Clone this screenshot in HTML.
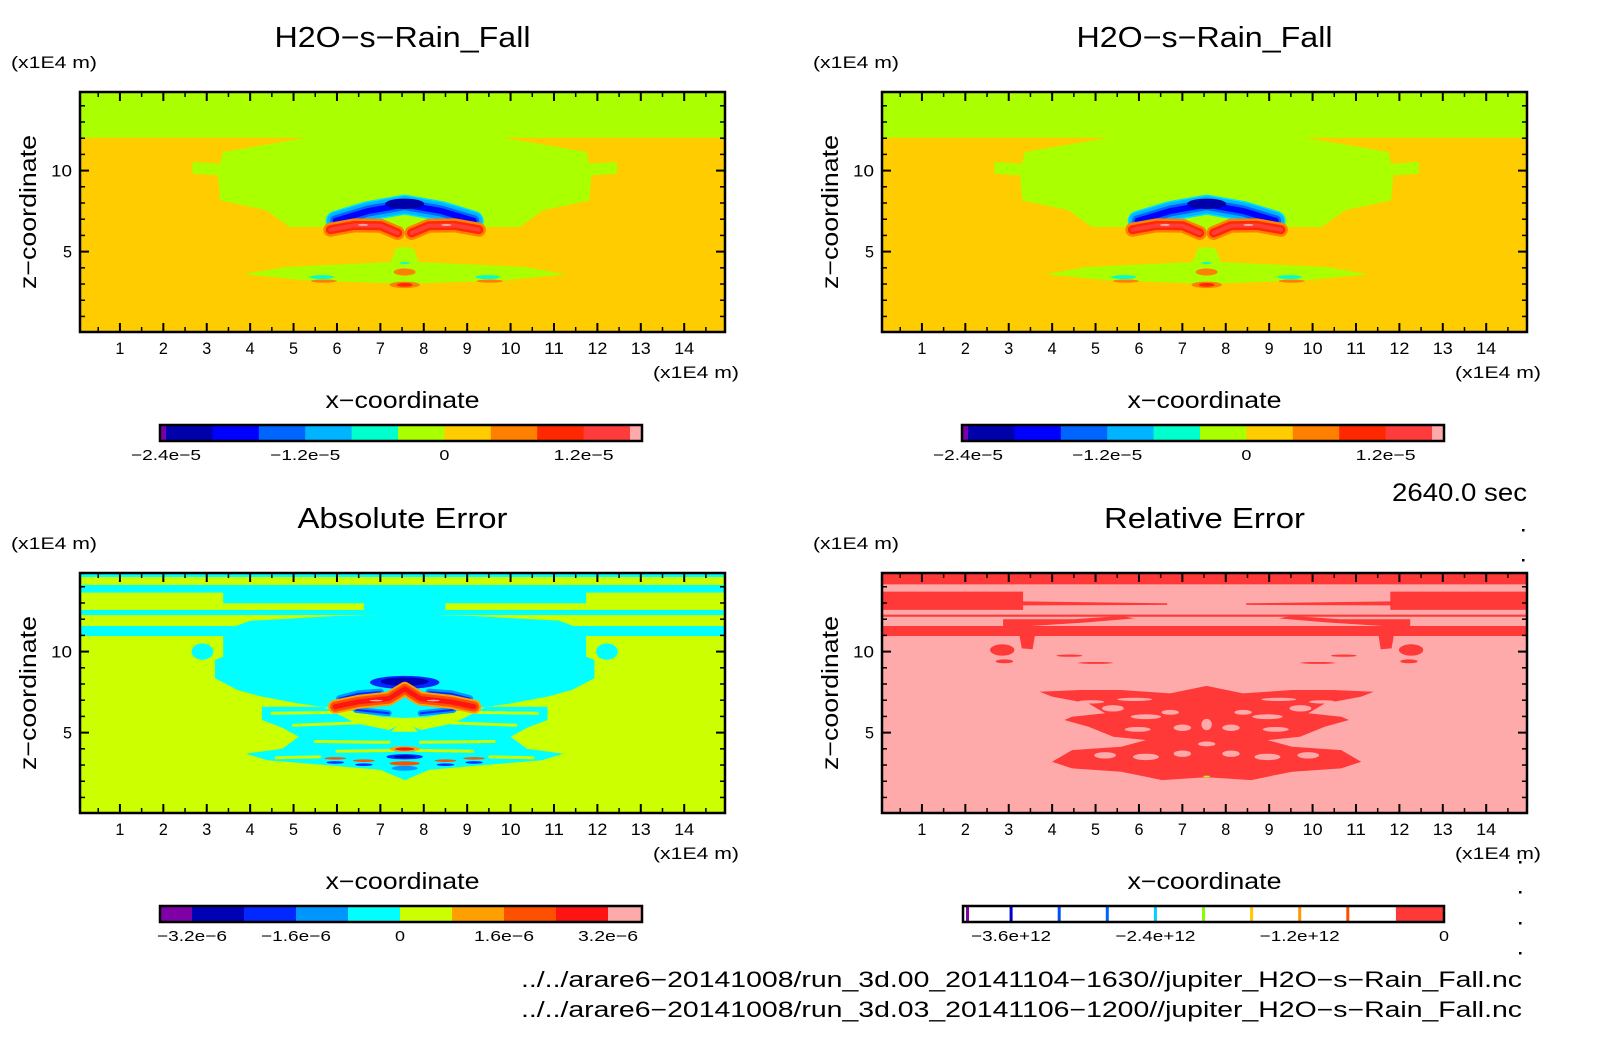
<!DOCTYPE html>
<html><head><meta charset="utf-8"><title>H2O-s-Rain_Fall comparison</title>
<style>
html,body{margin:0;padding:0;background:#fff;}
svg{display:block;}
text{font-family:"Liberation Sans",sans-serif;fill:#000;}
</style></head>
<body>
<svg id="fig" width="1604" height="1054" viewBox="0 0 1604 1054" xmlns="http://www.w3.org/2000/svg">
<defs>
<clipPath id="clipTL"><rect x="80" y="92" width="645" height="240"/></clipPath>
<clipPath id="clipTR"><rect x="882" y="92" width="645" height="240"/></clipPath>
<clipPath id="clipBL"><rect x="80" y="573" width="645" height="240"/></clipPath>
<clipPath id="clipBR"><rect x="882" y="573" width="645" height="240"/></clipPath>
</defs>
</svg>
<script>
// ---------- data ----------
const xTicks = [1,2,3,4,5,6,7,8,9,10,11,12,13,14];
const zMajorTicks = [5,10];
const fieldLevels = [-2.4,-2.0,-1.6,-1.2,-0.8,-0.4,0,0.4,0.8,1.2,1.6];
const fieldColors = ['#7a00a8','#0000aa','#0000ff','#0064ff','#00b4ff','#00ffcc','#aaff00','#ffcc00','#ff8000','#ff2800','#ff3c3c','#ffaaaa'];
const fieldTickLabels = ['-2.4e-5','-1.2e-5','0','1.2e-5'];
const fieldTickValues = [-2.4,-1.2,0,1.2];
const absLevels = [-3.2,-2.4,-1.6,-0.8,0,0.8,1.6,2.4,3.2];
const absColors = ['#8000a8','#0000b4','#0028ff','#0096ff','#00ffff','#ccff00','#ffa000','#ff5000','#ff1414','#ffaaaa'];
const absTickLabels = ['-3.2e-6','-1.6e-6','0','1.6e-6','3.2e-6'];
const absTickValues = [-3.2,-1.6,0,1.6,3.2];
const relLevels = [-4.0,-3.6,-3.2,-2.8,-2.4,-2.0,-1.6,-1.2,-0.8,-0.4];
const relLineColors = ['#8000a8','#0000cc','#0050ff','#0064ff','#00d0ff','#88ff00','#ffc800','#ff9800','#ff5000'];
const relTickLabels = ['-3.6e+12','-2.4e+12','-1.2e+12','0'];
const relTickValues = [-3.6,-2.4,-1.2,0];

// field shapes (data coords, x and z in 1E4 m); half shapes mirrored about XC
const XC = 7.56;
const greenBlobHalf = [[7.56,12.1],[5.3,12.1],[5.3,12.03],[3.37,11.15],[3.31,10.43],[2.67,10.53],[2.67,9.81],[3.26,9.71],[3.31,8.16],[4.37,7.55],[4.91,6.52],[5.97,6.52],[7.56,6.0]];
const lowerGreenHalf = [[7.56,5.3],[7.35,5.18],[7.24,4.36],[4.8,4.05],[3.84,3.6],[5.33,3.22],[7.56,3.02]];
const blueArcHalf = [[5.97,6.9],[6.71,7.5],[7.56,7.9]];
const redLobe = [[5.85,6.35],[6.4,6.62],[7.0,6.6],[7.4,6.15]];

const absRects = [[14.6,14.9],[13.64,14.11],[12.26,12.57],[10.96,11.58]];
const absUpperHalf = [[7.56,13.7],[3.38,13.7],[3.38,12.98],[6.62,12.98],[6.62,12.5],[7.56,12.5]];
const absDomeHalf = [[7.56,12.3],[6.0,12.2],[4.0,11.9],[3.6,11.5],[7.56,11.5]];
const absBlobHalf = [[7.56,11.0],[3.38,11.0],[3.38,9.69],[3.19,9.48],[3.19,8.35],[3.71,7.63],[4.27,7.22],[5.12,6.8],[6.25,6.39],[7.0,5.98],[7.56,5.9]];
const absLowerHalf = [[7.56,5.6],[7.19,5.16],[6.44,5.57],[5.68,6.6],[4.27,6.6],[4.27,5.78],[4.74,5.3],[5.12,4.75],[4.74,4.0],[3.9,3.7],[4.4,3.3],[5.5,3.05],[6.2,2.9],[7.0,2.7],[7.56,2.07]];
const absStripes = [[[4.5,6.2],[6.0,6.25]],[[5.0,5.45],[6.5,5.6]],[[5.5,4.45],[7.2,4.4]],[[6.0,3.85],[7.3,3.9]],[[4.6,3.45],[5.6,3.5]]];
const absRedArc = [[5.96,6.6],[6.5,6.9],[7.2,7.1],[7.56,7.7]];
const absBlueSide = [[6.06,7.1],[6.5,7.4],[7.0,7.5]];
const absBlueBelow = [[6.44,6.4],[7.19,6.2]];

const relTopRect = [14.15,14.9];
const relBandLeft = [[0,13.7],[3.33,13.7],[3.33,13.1],[6.65,12.98],[6.65,12.88],[3.33,12.85],[3.33,12.57],[0,12.57]];
const relThin = [12.15,12.28];
const relMidRect = [10.96,11.58];
const relArcLeft = [[2.87,11.58],[2.87,12.0],[4.5,12.0],[5.6,12.2],[5.9,12.05],[4.8,11.8],[3.5,11.58]];
const relDripLeft = [[3.25,10.96],[3.6,10.96],[3.55,10.15],[3.3,10.2]];
const relLowerHalf = [[7.55,7.88],[6.72,7.42],[5.59,7.63],[4.65,7.63],[3.71,7.52],[4.0,7.22],[4.84,6.8],[5.22,6.19],[4.46,5.98],[4.28,5.78],[4.84,5.36],[5.41,4.75],[6.16,4.54],[5.59,4.13],[4.46,3.92],[4.0,3.2],[4.46,2.79],[5.59,2.59],[6.16,2.28],[6.53,2.07],[7.55,2.24]];
const relHoles = [[5.4,6.5,0.25,0.2],[6.16,5.98,0.35,0.15],[6.72,6.25,0.2,0.15],[5.97,5.2,0.3,0.15],[7.0,5.3,0.2,0.2],[5.22,3.6,0.25,0.2],[6.16,3.5,0.3,0.2],[7.0,3.7,0.2,0.2],[4.9,6.9,0.3,0.1],[5.9,7.05,0.4,0.1]];
const relCenterHoles = [[7.56,5.5,0.12,0.35],[7.56,4.3,0.2,0.15]];

// ---------- helpers ----------
const NS = 'http://www.w3.org/2000/svg';
const svg = document.getElementById('fig');
const XMIN = 0.08, XMAX = 14.94, ZMIN = 0.04, ZMAX = 14.85;
const PW = 645, PH = 240;
function mk(tag, attrs, parent){ const e=document.createElementNS(NS,tag); for(const k in attrs) e.setAttribute(k,attrs[k]); (parent||svg).appendChild(e); return e; }
function txt(parent, x, y, s, size, anchor, len){
  const t=mk('text',{x:x,y:y,'font-size':size,'text-anchor':anchor||'middle'},parent);
  if(len){ t.setAttribute('textLength',len); t.setAttribute('lengthAdjust','spacingAndGlyphs'); }
  t.textContent=s; return t;
}
function mirror(half){ const r=half.slice().reverse().map(p=>[2*XC-p[0],p[1]]); return half.concat(r); }
function mirrorPts(pts){ return pts.map(p=>[2*XC-p[0],p[1]]); }

function makePanel(ox, oy, clipId, name){
  const g = mk('g',{'clip-path':'url(#'+clipId+')'});
  
  
  const sx = x => ox + (x - XMIN) / (XMAX - XMIN) * PW;
  const sz = z => oy + PH - (z - ZMIN) / (ZMAX - ZMIN) * PH;
  const P = {g, sx, sz, ox, oy};
  P.rect = (z0, z1, fill) => mk('rect',{x:ox,y:sz(z1),width:PW,height:sz(z0)-sz(z1),fill:fill},g);
  P.poly = (pts, fill) => mk('polygon',{points:pts.map(p=>sx(p[0]).toFixed(1)+','+sz(p[1]).toFixed(1)).join(' '),fill:fill},g);
  P.line = (pts, color, w) => mk('polyline',{points:pts.map(p=>sx(p[0]).toFixed(1)+','+sz(p[1]).toFixed(1)).join(' '),fill:'none',stroke:color,'stroke-width':w,'stroke-linecap':'round','stroke-linejoin':'round'},g);
  P.ell = (x, z, rx, rz, fill) => mk('ellipse',{cx:sx(x),cy:sz(z),rx:rx/(XMAX-XMIN)*PW,ry:rz/(ZMAX-ZMIN)*PH,fill:fill},g);
  return P;
}

function drawAxes(P, name){
  const {ox, oy, sx, sz} = P;
  const a = mk('g',{});
  
  
  xTicks.forEach(v=>{
    const x=sx(v);
    mk('line',{x1:x,y1:oy,x2:x,y2:oy+9,stroke:'#000','stroke-width':2},a);
    mk('line',{x1:x,y1:oy+PH,x2:x,y2:oy+PH-9,stroke:'#000','stroke-width':2},a);
    const t = txt(a, x, oy+PH+22, String(v), 17, 'middle', v>=10?20:9);
    
    
  });
  for(let v=0.5; v<XMAX; v+=1){
    const x=sx(v);
    mk('line',{x1:x,y1:oy,x2:x,y2:oy+5,stroke:'#000','stroke-width':1.5},a);
    mk('line',{x1:x,y1:oy+PH,x2:x,y2:oy+PH-5,stroke:'#000','stroke-width':1.5},a);
  }
  for(let v=1; v<ZMAX; v+=1){
    const y=sz(v); const maj = zMajorTicks.indexOf(v)>=0; const L = maj?9:5;
    mk('line',{x1:ox,y1:y,x2:ox+L,y2:y,stroke:'#000','stroke-width':maj?2:1.5},a);
    mk('line',{x1:ox+PW,y1:y,x2:ox+PW-L,y2:y,stroke:'#000','stroke-width':maj?2:1.5},a);
  }
  zMajorTicks.forEach(v=>{
    const t = txt(a, ox-8, sz(v)+6, String(v), 17, 'end', v>=10?21:9);
    
    
  });
  mk('rect',{x:ox,y:oy,width:PW,height:PH,fill:'none',stroke:'#000','stroke-width':2.5},a);
  const u1 = txt(a, ox+PW+14, oy+PH+46, '(x1E4 m)', 17, 'end', 86);
  
  
  const u2 = txt(a, ox-69, oy-24, '(x1E4 m)', 17, 'start', 86);
  
  
  const xt = txt(a, ox+PW/2, oy+PH+76, 'x−coordinate', 23, 'middle', 154);
  
  
  const zt = txt(a, 0, 0, 'z−coordinate', 23, 'middle', 154);
  zt.setAttribute('transform','translate('+(ox-44)+','+(oy+PH/2)+') rotate(-90)');
  
  
}

function title(P, s, len){
  const t = txt(svg, P.ox+PW/2, P.oy-45, s, 29, 'middle', len);
  
  
}

// filled colorbar: purple end cap, equal segments between levels, pink end cap
function colorbar(x0, x1, y, levels, colors, lowW, highW, tickVals, tickLabels, name){
  const g = mk('g',{});
  
  
  const segW = (x1 - x0 - lowW - highW) / (levels.length - 1);
  const lx = v => x0 + lowW + (v - levels[0]) / (levels[levels.length-1]-levels[0]) * segW * (levels.length-1);
  mk('rect',{x:x0,y:y,width:lowW,height:16,fill:colors[0]},g);
  for(let i=0;i<levels.length-1;i++){
    const r = mk('rect',{x:lx(levels[i]),y:y,width:lx(levels[i+1])-lx(levels[i])+0.5,height:16,fill:colors[i+1]},g);
    
    
  }
  mk('rect',{x:x1-highW,y:y,width:highW,height:16,fill:colors[colors.length-1]},g);
  mk('rect',{x:x0,y:y,width:x1-x0,height:16,fill:'none',stroke:'#000','stroke-width':2.5},g);
  tickVals.forEach((v,i)=>{ const s=tickLabels[i]; txt(g, lx(v), y+35, s.replace(/-/g,'−'), 15, 'middle', s.length*10); });
}

function relColorbar(x0, x1, y){
  const g = mk('g',{});
  
  
  const lo = relLevels[0], hi = 0;
  const lx = v => x0 + (v - lo) / (hi - lo) * (x1 - x0);
  mk('rect',{x:x0,y:y,width:x1-x0,height:16,fill:'#fff'},g);
  mk('rect',{x:lx(-0.4),y:y,width:x1-lx(-0.4),height:16,fill:'#ff3838'},g);
  relLineColors.forEach((c,i)=>{
    const r = mk('rect',{x:lx(relLevels[i])+(i===0?3:-1.5),y:y,width:3,height:16,fill:c},g);
    
    
  });
  mk('rect',{x:x0,y:y,width:x1-x0,height:16,fill:'none',stroke:'#000','stroke-width':2.5},g);
  relTickValues.forEach((v,i)=>{ const s=relTickLabels[i]; txt(g, lx(v), y+35, s.replace(/-/g,'−'), 15, 'middle', s.length*10); });
}

// ---------- top panels: H2O-s-Rain_Fall ----------
function drawField(P){
  P.rect(ZMIN-1, ZMAX+1, '#ffcc00');
  P.rect(12.03, ZMAX+1, '#aaff00');
  P.poly(mirror(greenBlobHalf), '#aaff00');
  P.poly(mirror(lowerGreenHalf), '#aaff00');
  const arc = mirror(blueArcHalf).filter((p,i,a)=>i!==blueArcHalf.length);
  P.line(arc, '#00e0ff', 20);
  P.line(arc, '#00b4ff', 17);
  P.line(arc, '#0064ff', 11);
  P.line(arc, '#0000ff', 6);
  P.ell(7.56, 7.95, 0.45, 0.32, '#0000aa');
  [redLobe, mirrorPts(redLobe)].forEach(l=>{
    P.line(l, '#ff8000', 14);
    P.line(l, '#ff2800', 9);
    P.line(l, '#ff3c3c', 4);
  });
  P.ell(6.6, 6.65, 0.12, 0.06, '#ffaaaa');
  P.ell(8.52, 6.65, 0.12, 0.06, '#ffaaaa');
  [[5.65,3.43],[2*XC-5.65,3.43]].forEach(p=>{
    P.ell(p[0], p[1], 0.28, 0.12, '#00ffcc');
    P.ell(p[0]+0.05, p[1]-0.25, 0.3, 0.1, '#ff8000');
  });
  P.ell(7.56, 3.74, 0.25, 0.22, '#ff8000');
  P.ell(7.56, 2.95, 0.35, 0.2, '#ff8000');
  P.ell(7.56, 2.95, 0.18, 0.12, '#ff2800');
  P.ell(7.56, 4.3, 0.12, 0.06, '#00ffcc');
}

const TL = makePanel(80, 92, 'clipTL', 'rain-fall-left');
drawField(TL); drawAxes(TL, 'rain-fall-left'); title(TL, 'H2O−s−Rain_Fall', 256);
const TR = makePanel(882, 92, 'clipTR', 'rain-fall-right');
drawField(TR); drawAxes(TR, 'rain-fall-right'); title(TR, 'H2O−s−Rain_Fall', 256);
colorbar(160, 642, 425, fieldLevels, fieldColors, 6, 12, fieldTickValues, fieldTickLabels, 'rain-fall-left-colorbar');
colorbar(962, 1444, 425, fieldLevels, fieldColors, 6, 12, fieldTickValues, fieldTickLabels, 'rain-fall-right-colorbar');

// ---------- absolute error ----------
const BL = makePanel(80, 573, 'clipBL', 'absolute-error');
BL.rect(ZMIN-1, ZMAX+1, '#ccff00');
absRects.forEach(r=>BL.rect(r[0], r[1], '#00ffff'));
BL.poly(mirror(absUpperHalf), '#00ffff');
BL.poly(mirror(absDomeHalf), '#00ffff');
BL.poly(mirror(absBlobHalf), '#00ffff');
BL.ell(2.9, 10.0, 0.25, 0.5, '#00ffff');
BL.ell(2*XC-2.9, 10.0, 0.25, 0.5, '#00ffff');
BL.poly(mirror(absLowerHalf), '#00ffff');
BL.poly([[7.56,5.9],[7.25,5.05],[7.87,5.05]], '#ccff00');
absStripes.forEach(s=>{ BL.line(s,'#ccff00',3); BL.line(mirrorPts(s),'#ccff00',3); });
BL.ell(7.56, 8.1, 0.8, 0.4, '#0028ff');
BL.ell(7.56, 8.15, 0.55, 0.25, '#0000b4');
[absBlueSide, mirrorPts(absBlueSide)].forEach(l=>{ BL.line(l,'#0096ff',7); BL.line(l,'#0028ff',2); });
[absBlueBelow, mirrorPts(absBlueBelow)].forEach(l=>{ BL.line(l,'#0096ff',6); BL.line(l,'#0028ff',2); });
const absArc = mirror(absRedArc).filter((p,i)=>i!==absRedArc.length);
BL.line(absArc, '#ffa000', 14);
BL.line(absArc, '#ff5000', 10);
BL.line(absArc, '#ff1414', 5);
BL.ell(6.9, 6.98, 0.15, 0.05, '#ffaaaa');
BL.ell(8.22, 6.98, 0.15, 0.05, '#ffaaaa');
BL.ell(7.56, 3.99, 0.35, 0.17, '#ffa000'); BL.ell(7.56, 3.99, 0.22, 0.1, '#ff1414');
BL.ell(7.56, 3.51, 0.42, 0.16, '#0028ff'); BL.ell(7.56, 3.51, 0.25, 0.09, '#0000b4');
BL.ell(7.56, 3.1, 0.35, 0.13, '#ff5000');
BL.ell(7.56, 2.8, 0.3, 0.15, '#0096ff');
[[5.96,3.41],[6.62,3.27]].forEach(p=>{
  [p, [2*XC-p[0],p[1]]].forEach(q=>{ BL.ell(q[0],q[1],0.25,0.08,'#ff5000'); BL.ell(q[0],q[1]-0.25,0.2,0.08,'#0028ff'); });
});
drawAxes(BL, 'absolute-error'); title(BL, 'Absolute Error', 210);
colorbar(160, 642, 906, absLevels, absColors, 32, 34, absTickValues, absTickLabels, 'absolute-error-colorbar');

// ---------- relative error ----------
const BR = makePanel(882, 573, 'clipBR', 'relative-error');
const RED = '#ff3838', PINK = '#ffaaaa';
BR.rect(ZMIN-1, ZMAX+1, PINK);
BR.rect(relTopRect[0], ZMAX+1, RED);
BR.poly(relBandLeft, RED); BR.poly(mirrorPts(relBandLeft), RED);
BR.rect(relThin[0], relThin[1], RED);
BR.rect(relMidRect[0], relMidRect[1], RED);
BR.poly(relArcLeft, RED); BR.poly(mirrorPts(relArcLeft), RED);
BR.poly(relDripLeft, RED); BR.poly(mirrorPts(relDripLeft), RED);
[[2.85,10.1,0.28,0.35],[2.9,9.4,0.2,0.12],[4.4,9.75,0.3,0.07],[5.0,9.3,0.4,0.06]].forEach(e=>{
  BR.ell(e[0],e[1],e[2],e[3],RED); BR.ell(2*XC-e[0],e[1],e[2],e[3],RED);
});
BR.poly(mirror(relLowerHalf), RED);
relHoles.forEach(e=>{ BR.ell(e[0],e[1],e[2],e[3],PINK); BR.ell(2*XC-e[0],e[1],e[2],e[3],PINK); });
relCenterHoles.forEach(e=>BR.ell(e[0],e[1],e[2],e[3],PINK));
BR.ell(7.56, 2.3, 0.08, 0.05, '#aaff00');
drawAxes(BR, 'relative-error'); title(BR, 'Relative Error', 201);
relColorbar(963, 1444, 906);

// ---------- annotations ----------
const tm = txt(svg, 1527, 501, '2640.0 sec', 25, 'end', 135);


[[1523,530],[1523,560],[1520,862],[1520,892],[1520,923],[1520,953]].forEach(p=>{
  const d = mk('rect',{x:p[0]-1,y:p[1]-1,width:2.5,height:2.5,fill:'#000'});
  
  
});
const f1 = txt(svg, 1522, 987, '../../arare6−20141008/run_3d.00_20141104−1630//jupiter_H2O−s−Rain_Fall.nc', 22, 'end', 1001);


const f2 = txt(svg, 1522, 1017, '../../arare6−20141008/run_3d.03_20141106−1200//jupiter_H2O−s−Rain_Fall.nc', 22, 'end', 1001);


</script>
</body></html>
